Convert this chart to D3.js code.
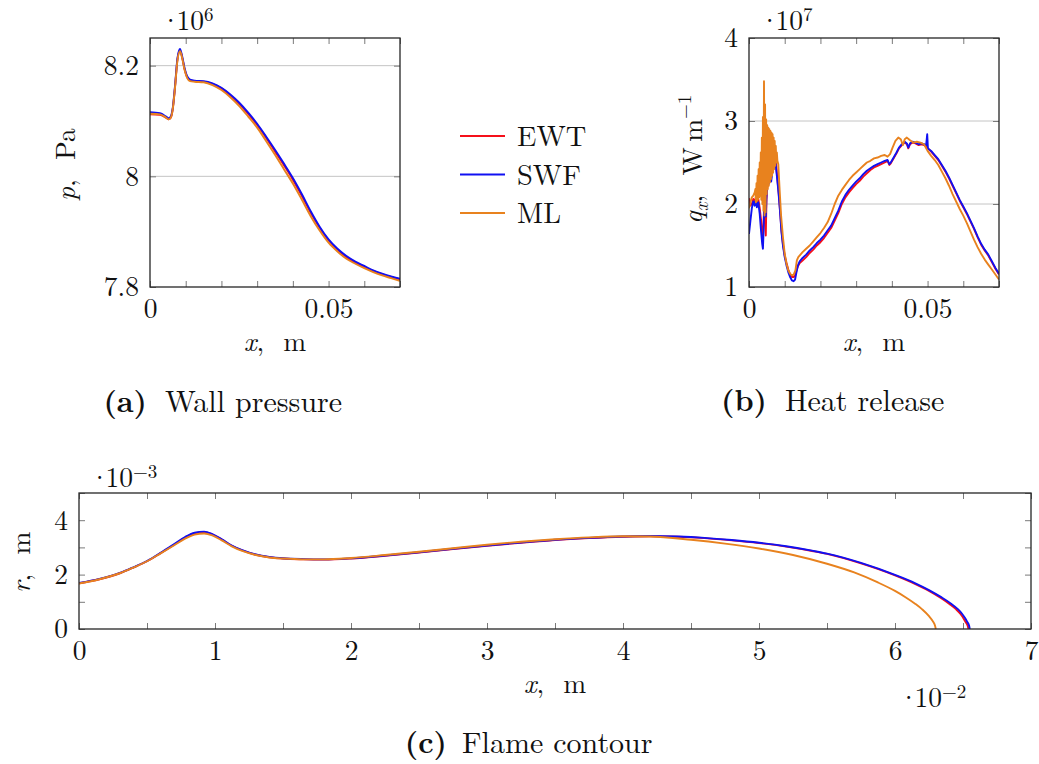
<!DOCTYPE html>
<html>
<head>
<meta charset="utf-8">
<script src="https://cdn.jsdelivr.net/npm/d3@7"></script>
<style>
  body { margin: 0; background: #fff; }
</style>
</head>
<body>
<script>
// ---------- (a) wall pressure, x in m, p in 1e6 Pa ----------
const pressureSWF = [
  [0, 8.116], [0.0028, 8.114], [0.0045, 8.108], [0.0052, 8.105], [0.0058, 8.108],
  [0.0064, 8.125], [0.0070, 8.163], [0.0077, 8.214], [0.0084, 8.230], [0.0090, 8.217],
  [0.0097, 8.195], [0.0104, 8.181], [0.0112, 8.175], [0.0125, 8.173], [0.0150, 8.172],
  [0.0175, 8.168], [0.0200, 8.160], [0.0225, 8.148], [0.0250, 8.133], [0.0275, 8.115],
  [0.0300, 8.095], [0.0325, 8.072], [0.0350, 8.048], [0.0375, 8.023], [0.0400, 7.997],
  [0.0425, 7.968], [0.0450, 7.937], [0.0475, 7.909], [0.0500, 7.886], [0.0525, 7.869],
  [0.0550, 7.856], [0.0575, 7.846], [0.0600, 7.838], [0.0625, 7.830], [0.0650, 7.824],
  [0.0675, 7.819], [0.0700, 7.815]
];
const pressureEWT = [
  [0, 8.112], [0.0028, 8.111], [0.0045, 8.106], [0.0052, 8.103], [0.0058, 8.106],
  [0.0064, 8.123], [0.0070, 8.161], [0.0077, 8.212], [0.0084, 8.228], [0.0090, 8.215],
  [0.0097, 8.193], [0.0104, 8.179], [0.0112, 8.174], [0.0125, 8.172], [0.0150, 8.171],
  [0.0175, 8.167], [0.0200, 8.159], [0.0225, 8.146], [0.0250, 8.131], [0.0275, 8.113],
  [0.0300, 8.093], [0.0325, 8.070], [0.0350, 8.045], [0.0375, 8.020], [0.0400, 7.994],
  [0.0425, 7.965], [0.0450, 7.934], [0.0475, 7.907], [0.0500, 7.884], [0.0525, 7.867],
  [0.0550, 7.854], [0.0575, 7.844], [0.0600, 7.836], [0.0625, 7.829], [0.0650, 7.823],
  [0.0675, 7.818], [0.0700, 7.814]
];
const pressureML = [
  [0, 8.113], [0.0028, 8.112], [0.0045, 8.106], [0.0052, 8.103], [0.0058, 8.106],
  [0.0064, 8.123], [0.0070, 8.160], [0.0077, 8.210], [0.0084, 8.226], [0.0090, 8.214],
  [0.0097, 8.192], [0.0104, 8.178], [0.0112, 8.172], [0.0125, 8.171], [0.0150, 8.170],
  [0.0175, 8.165], [0.0200, 8.156], [0.0225, 8.143], [0.0250, 8.127], [0.0275, 8.108],
  [0.0300, 8.088], [0.0325, 8.064], [0.0350, 8.039], [0.0375, 8.013], [0.0400, 7.987],
  [0.0425, 7.958], [0.0450, 7.928], [0.0475, 7.902], [0.0500, 7.880], [0.0525, 7.864],
  [0.0550, 7.851], [0.0575, 7.842], [0.0600, 7.834], [0.0625, 7.827], [0.0650, 7.821],
  [0.0675, 7.816], [0.0700, 7.811]
];

// ---------- (b) heat release, x in m, q in 1e7 W/m ----------
const heatSWF = [
  [0, 1.64], [0.0004, 1.80], [0.0008, 1.95], [0.0012, 2.03], [0.0016, 1.98], [0.0019, 2.05],
  [0.0022, 1.96], [0.0026, 2.02], [0.0030, 1.88], [0.0034, 1.66], [0.0037, 1.52], [0.0039, 1.46],
  [0.0041, 1.70], [0.0043, 2.05], [0.0045, 1.92], [0.0047, 1.85], [0.0049, 2.10], [0.0052, 2.29],
  [0.0055, 2.24], [0.0058, 2.29], [0.0062, 2.27], [0.0066, 2.40], [0.0070, 2.50], [0.0073, 2.57],
  [0.0076, 2.42], [0.0079, 2.30], [0.0083, 2.12], [0.0087, 1.90], [0.0091, 1.66], [0.0095, 1.50],
  [0.0100, 1.36], [0.0105, 1.26], [0.0110, 1.18], [0.0115, 1.12], [0.0120, 1.08], [0.0125, 1.07],
  [0.0129, 1.09], [0.0133, 1.18], [0.0137, 1.26], [0.0142, 1.31], [0.0150, 1.35], [0.0160, 1.39],
  [0.0170, 1.44], [0.0180, 1.48], [0.0190, 1.53], [0.0200, 1.57], [0.0210, 1.62], [0.0220, 1.68],
  [0.0230, 1.74], [0.0240, 1.83], [0.0250, 1.92], [0.0260, 2.03], [0.0270, 2.11], [0.0280, 2.17],
  [0.0290, 2.22], [0.0300, 2.27], [0.0310, 2.31], [0.0320, 2.36], [0.0330, 2.40], [0.0340, 2.43],
  [0.0350, 2.46], [0.0360, 2.48], [0.0370, 2.50], [0.0380, 2.52], [0.0388, 2.53], [0.0393, 2.48],
  [0.0397, 2.50], [0.0405, 2.56], [0.0413, 2.62], [0.0420, 2.68], [0.0428, 2.72], [0.0436, 2.75],
  [0.0442, 2.73], [0.0446, 2.68], [0.0451, 2.73], [0.0458, 2.75], [0.0466, 2.74], [0.0475, 2.72],
  [0.0483, 2.73], [0.0490, 2.72], [0.0496, 2.71], [0.0499, 2.84], [0.0501, 2.67], [0.0510, 2.64],
  [0.0520, 2.59], [0.0530, 2.54], [0.0540, 2.47], [0.0550, 2.40], [0.0560, 2.32], [0.0570, 2.23],
  [0.0580, 2.14], [0.0590, 2.05], [0.0600, 1.97], [0.0610, 1.89], [0.0620, 1.80], [0.0630, 1.71],
  [0.0640, 1.61], [0.0650, 1.52], [0.0660, 1.45], [0.0670, 1.39], [0.0680, 1.31], [0.0690, 1.23],
  [0.0700, 1.16]
];
const heatEWT = [
  [0, 2.07], [0.0004, 1.98], [0.0008, 2.00], [0.0012, 2.06], [0.0016, 2.02], [0.0019, 2.08],
  [0.0022, 2.00], [0.0026, 2.06], [0.0030, 1.95], [0.0034, 1.80], [0.0037, 1.62], [0.0039, 1.60],
  [0.0041, 1.78], [0.0043, 2.10], [0.0045, 1.98], [0.0047, 1.62], [0.0049, 2.05], [0.0052, 2.25],
  [0.0055, 2.30], [0.0058, 2.33], [0.0062, 2.35], [0.0066, 2.45], [0.0070, 2.52], [0.0073, 2.55],
  [0.0076, 2.48], [0.0079, 2.32], [0.0083, 2.14], [0.0087, 1.92], [0.0091, 1.68], [0.0095, 1.52],
  [0.0100, 1.38], [0.0105, 1.29], [0.0110, 1.21], [0.0115, 1.15], [0.0120, 1.12], [0.0125, 1.12],
  [0.0129, 1.14], [0.0133, 1.20], [0.0137, 1.25], [0.0142, 1.29], [0.0150, 1.32], [0.0160, 1.36],
  [0.0170, 1.41], [0.0180, 1.45], [0.0190, 1.50], [0.0200, 1.54], [0.0210, 1.59], [0.0220, 1.65],
  [0.0230, 1.71], [0.0240, 1.80], [0.0250, 1.89], [0.0260, 2.00], [0.0270, 2.08], [0.0280, 2.14],
  [0.0290, 2.19], [0.0300, 2.24], [0.0310, 2.28], [0.0320, 2.33], [0.0330, 2.37], [0.0340, 2.41],
  [0.0350, 2.44], [0.0360, 2.46], [0.0370, 2.48], [0.0380, 2.50], [0.0388, 2.52], [0.0393, 2.47],
  [0.0397, 2.49], [0.0405, 2.55], [0.0413, 2.61], [0.0420, 2.67], [0.0428, 2.71], [0.0436, 2.74],
  [0.0442, 2.72], [0.0446, 2.67], [0.0451, 2.72], [0.0458, 2.74], [0.0466, 2.73], [0.0475, 2.71],
  [0.0483, 2.72], [0.0490, 2.71], [0.0496, 2.70], [0.0501, 2.67], [0.0510, 2.63], [0.0520, 2.58],
  [0.0530, 2.53], [0.0540, 2.46], [0.0550, 2.39], [0.0560, 2.31], [0.0570, 2.22], [0.0580, 2.13],
  [0.0590, 2.04], [0.0600, 1.96], [0.0610, 1.88], [0.0620, 1.79], [0.0630, 1.70], [0.0640, 1.60],
  [0.0650, 1.51], [0.0660, 1.44], [0.0670, 1.38], [0.0680, 1.30], [0.0690, 1.22], [0.0700, 1.15]
];
const heatML = [
  [0, 1.95], [0.0004, 2.02], [0.0008, 2.08], [0.0012, 2.10], [0.0016, 2.14],
  [0.00180, 2.18], [0.00195, 2.02], [0.00210, 2.25], [0.00225, 2.04], [0.00240, 2.34],
  [0.00255, 2.06], [0.00270, 2.42], [0.00285, 2.08], [0.00300, 2.50], [0.00315, 2.10],
  [0.00330, 2.62], [0.00345, 2.05], [0.00360, 2.80], [0.00375, 2.00], [0.00390, 3.05],
  [0.00405, 1.92], [0.00420, 3.48], [0.00435, 1.86], [0.00450, 3.20], [0.00465, 1.90],
  [0.00480, 3.02], [0.00495, 2.12], [0.00510, 2.95], [0.00525, 2.18], [0.00540, 2.92],
  [0.00555, 2.22], [0.00570, 2.90], [0.00585, 2.26], [0.00600, 2.88], [0.00615, 2.30],
  [0.00630, 2.86], [0.00645, 2.34], [0.00660, 2.84], [0.00675, 2.38], [0.00690, 2.80],
  [0.00705, 2.42], [0.00720, 2.76], [0.00735, 2.46], [0.00750, 2.70], [0.00765, 2.50],
  [0.00780, 2.62], [0.00795, 2.52],
  [0.0082, 2.48], [0.0086, 2.15], [0.0090, 1.85], [0.0095, 1.60], [0.0100, 1.40], [0.0105, 1.28],
  [0.0110, 1.20], [0.0115, 1.16], [0.0120, 1.14], [0.0125, 1.15], [0.0130, 1.20], [0.0134, 1.32],
  [0.0138, 1.36], [0.0150, 1.42], [0.0160, 1.46], [0.0170, 1.50], [0.0180, 1.55], [0.0190, 1.60],
  [0.0200, 1.65], [0.0210, 1.71], [0.0220, 1.78], [0.0230, 1.88], [0.0240, 2.00], [0.0250, 2.10],
  [0.0260, 2.17], [0.0270, 2.23], [0.0280, 2.29], [0.0290, 2.34], [0.0300, 2.38], [0.0310, 2.42],
  [0.0320, 2.46], [0.0330, 2.50], [0.0340, 2.52], [0.0350, 2.55], [0.0360, 2.56], [0.0370, 2.58],
  [0.0380, 2.59], [0.0388, 2.57], [0.0395, 2.60], [0.0402, 2.68], [0.0410, 2.76], [0.0418, 2.80],
  [0.0425, 2.78], [0.0431, 2.71], [0.0436, 2.78], [0.0442, 2.80], [0.0450, 2.77], [0.0460, 2.74],
  [0.0470, 2.75], [0.0480, 2.74], [0.0490, 2.72], [0.0500, 2.64], [0.0510, 2.58], [0.0520, 2.53],
  [0.0530, 2.47], [0.0540, 2.39], [0.0550, 2.31], [0.0560, 2.22], [0.0570, 2.12], [0.0580, 2.03],
  [0.0590, 1.94], [0.0600, 1.86], [0.0610, 1.77], [0.0620, 1.67], [0.0630, 1.57], [0.0640, 1.48],
  [0.0650, 1.40], [0.0660, 1.33], [0.0670, 1.27], [0.0680, 1.21], [0.0690, 1.15], [0.0700, 1.09]
];

// ---------- (c) flame contour, x in 1e-2 m, r in 1e-3 m ----------
const contourSWF = [
  [0, 1.69], [0.15, 1.84], [0.3, 2.06], [0.4, 2.27], [0.5, 2.50], [0.6, 2.80], [0.7, 3.12],
  [0.78, 3.38], [0.85, 3.54], [0.92, 3.58], [0.98, 3.49], [1.05, 3.30], [1.12, 3.08],
  [1.2, 2.90], [1.3, 2.74], [1.4, 2.65], [1.5, 2.60], [1.65, 2.57], [1.8, 2.56], [2.0, 2.60],
  [2.25, 2.70], [2.5, 2.82], [2.75, 2.95], [3.0, 3.07], [3.25, 3.18], [3.5, 3.28], [3.75, 3.35],
  [4.0, 3.40], [4.2, 3.42], [4.4, 3.40], [4.6, 3.35], [4.8, 3.27], [5.0, 3.17], [5.2, 3.04],
  [5.4, 2.87], [5.5, 2.77], [5.75, 2.43], [6.0, 1.99], [6.15, 1.68], [6.25, 1.43], [6.34, 1.17],
  [6.41, 0.94], [6.46, 0.74], [6.49, 0.58], [6.515, 0.40], [6.53, 0.27], [6.545, 0.12], [6.55, 0]
];
const contourEWT = [
  [0, 1.68], [0.15, 1.83], [0.3, 2.05], [0.4, 2.26], [0.5, 2.49], [0.6, 2.79], [0.7, 3.10],
  [0.78, 3.36], [0.85, 3.52], [0.92, 3.56], [0.98, 3.48], [1.05, 3.29], [1.12, 3.07],
  [1.2, 2.89], [1.3, 2.73], [1.4, 2.64], [1.5, 2.59], [1.65, 2.56], [1.8, 2.55], [2.0, 2.59],
  [2.25, 2.69], [2.5, 2.81], [2.75, 2.94], [3.0, 3.06], [3.25, 3.17], [3.5, 3.27], [3.75, 3.34],
  [4.0, 3.39], [4.2, 3.41], [4.4, 3.39], [4.6, 3.34], [4.8, 3.26], [5.0, 3.16], [5.2, 3.03],
  [5.4, 2.86], [5.5, 2.76], [5.75, 2.41], [6.0, 1.97], [6.15, 1.65], [6.25, 1.40], [6.34, 1.13],
  [6.40, 0.92], [6.45, 0.72], [6.48, 0.56], [6.505, 0.38], [6.52, 0.25], [6.535, 0.11], [6.54, 0]
];
const contourML = [
  [0, 1.67], [0.15, 1.83], [0.3, 2.05], [0.4, 2.26], [0.5, 2.49], [0.6, 2.78], [0.7, 3.08],
  [0.78, 3.32], [0.85, 3.47], [0.92, 3.51], [0.98, 3.44], [1.05, 3.26], [1.12, 3.05],
  [1.2, 2.87], [1.3, 2.72], [1.4, 2.63], [1.5, 2.59], [1.65, 2.56], [1.8, 2.56], [2.0, 2.61],
  [2.25, 2.72], [2.5, 2.84], [2.75, 2.97], [3.0, 3.10], [3.25, 3.21], [3.5, 3.30], [3.75, 3.37],
  [4.0, 3.41], [4.2, 3.40], [4.5, 3.28], [4.75, 3.14], [5.0, 2.96], [5.25, 2.72], [5.5, 2.40],
  [5.7, 2.08], [5.87, 1.72], [6.0, 1.40], [6.08, 1.16], [6.15, 0.92], [6.2, 0.72], [6.25, 0.47],
  [6.28, 0.27], [6.295, 0.11], [6.30, 0]
];

// ---------- ticks and labels ----------
const pressureXTicks = [0, 0.01, 0.02, 0.03, 0.04, 0.05, 0.06, 0.07];
const pressureXLabels = [[0, "0"], [0.05, "0.05"]];
const pressureYTicks = [7.8, 8.0, 8.2];
const pressureYLabels = [[7.8, "7.8"], [8.0, "8"], [8.2, "8.2"]];
const heatXTicks = [0, 0.01, 0.02, 0.03, 0.04, 0.05, 0.06, 0.07];
const heatXLabels = [[0, "0"], [0.05, "0.05"]];
const heatYTicks = [1, 2, 3, 4];
const heatYLabels = [[1, "1"], [2, "2"], [3, "3"], [4, "4"]];
const contourXTicks = [0, 0.5, 1, 1.5, 2, 2.5, 3, 3.5, 4, 4.5, 5, 5.5, 6, 6.5, 7];
const contourXLabels = [[0, "0"], [1, "1"], [2, "2"], [3, "3"], [4, "4"], [5, "5"], [6, "6"], [7, "7"]];
const contourYTicks = [0, 1, 2, 3, 4, 5];
const contourYLabels = [[0, "0"], [2, "2"], [4, "4"]];

const seriesNames = ["EWT", "SWF", "ML"];
const seriesColors = { EWT: "#f5101a", SWF: "#1010f2", ML: "#e8821e" };

// ---------- drawing ----------
const FONT = "'Latin Modern Roman', 'CMU Serif', 'Liberation Serif', serif";
const TICK_FS = 27.5;
const svg = d3.select("body").append("svg")
  .attr("width", 1039).attr("height", 764)
  .attr("font-family", FONT);

function labelFor(pairs) {
  return d => {
    const hit = pairs.find(p => Math.abs(p[0] - d) < 1e-9);
    return hit ? hit[1] : "";
  };
}

function styleAxis(sel) {
  sel.attr("font-family", FONT).attr("font-size", TICK_FS);
  sel.select(".domain").remove();
  sel.selectAll(".tick line").attr("stroke", "#7a7a7a").attr("stroke-width", 1);
  sel.selectAll(".tick text").attr("fill", "#111").attr("font-family", FONT);
}

function drawPanel(cfg) {
  const g = svg.append("g");
  const x = d3.scaleLinear().domain(cfg.xDomain).range([cfg.left, cfg.right]);
  const y = d3.scaleLinear().domain(cfg.yDomain).range([cfg.bottom, cfg.top]);

  // horizontal grid
  g.append("g").selectAll("line").data(cfg.yGrid || []).join("line")
    .attr("x1", cfg.left).attr("x2", cfg.right)
    .attr("y1", d => y(d)).attr("y2", d => y(d))
    .attr("stroke", "#c4c4c4").attr("stroke-width", 1);

  // ticks on all four sides, pointing inward
  g.append("g").attr("transform", `translate(0,${cfg.bottom})`)
    .call(d3.axisBottom(x).tickValues(cfg.xTicks).tickSize(-6).tickPadding(11)
      .tickFormat(labelFor(cfg.xLabels))).call(styleAxis);
  g.append("g").attr("transform", `translate(0,${cfg.top})`)
    .call(d3.axisTop(x).tickValues(cfg.xTicks).tickSize(-6).tickFormat("")).call(styleAxis);
  g.append("g").attr("transform", `translate(${cfg.left},0)`)
    .call(d3.axisLeft(y).tickValues(cfg.yTicks).tickSize(-6).tickPadding(11)
      .tickFormat(labelFor(cfg.yLabels))).call(styleAxis);
  g.append("g").attr("transform", `translate(${cfg.right},0)`)
    .call(d3.axisRight(y).tickValues(cfg.yTicks).tickSize(-6).tickFormat("")).call(styleAxis);

  // curves, clipped to the frame
  const clipId = "clip-" + cfg.id;
  svg.append("clipPath").attr("id", clipId).append("rect")
    .attr("x", cfg.left).attr("y", cfg.top)
    .attr("width", cfg.right - cfg.left).attr("height", cfg.bottom - cfg.top);
  const line = d3.line().x(d => x(d[0])).y(d => y(d[1])).curve(cfg.curve);
  g.append("g").attr("clip-path", `url(#${clipId})`)
    .selectAll("path").data(cfg.series).join("path")
    .attr("d", s => line(s.values))
    .attr("fill", "none")
    .attr("stroke", s => seriesColors[s.name])
    .attr("stroke-width", 1.9)
    .attr("stroke-linejoin", "round");

  // frame
  g.append("rect").attr("x", cfg.left).attr("y", cfg.top)
    .attr("width", cfg.right - cfg.left).attr("height", cfg.bottom - cfg.top)
    .attr("fill", "none").attr("stroke", "#262626").attr("stroke-width", 1.3);
  return g;
}

function mathLabel(g, parts, attrs) {
  const t = g.append("text").attr("font-size", TICK_FS)
    .attr("font-family", FONT).attr("fill", "#111");
  Object.entries(attrs).forEach(([k, v]) => t.attr(k, v));
  parts.forEach(p => {
    const s = t.append("tspan").text(p.t);
    if (p.italic) s.attr("font-style", "italic");
    if (p.size) s.attr("font-size", p.size);
    if (p.dy) s.attr("dy", p.dy);
    if (p.ls) s.attr("letter-spacing", p.ls);
  });
  return t;
}

// scale multiplier such as ·10^6
function multiplier(g, exponent, x, y) {
  return mathLabel(g, [
    { t: "·", ls: -5 }, { t: "10" }, { t: exponent, size: 19, dy: -9 }
  ], { x, y });
}

// (a)
const gA = drawPanel({
  id: "a", left: 150, right: 400, top: 38, bottom: 287,
  xDomain: [0, 0.07], yDomain: [7.8, 8.25],
  xTicks: pressureXTicks, xLabels: pressureXLabels,
  yTicks: pressureYTicks, yLabels: pressureYLabels, yGrid: [8.0, 8.2],
  curve: d3.curveMonotoneX,
  series: [
    { name: "EWT", values: pressureEWT },
    { name: "SWF", values: pressureSWF },
    { name: "ML", values: pressureML }
  ]
});
multiplier(gA, "6", 160, 30);
mathLabel(gA, [{ t: "x", italic: true }, { t: ",\u2002\u2009m" }],
  { x: 275, y: 351, "text-anchor": "middle" });
mathLabel(gA, [{ t: "p", italic: true }, { t: ",\u2002\u2009Pa" }],
  { transform: "translate(75,201) rotate(-90)" });

// (b)
const gB = drawPanel({
  id: "b", left: 749, right: 999, top: 38, bottom: 287,
  xDomain: [0, 0.07], yDomain: [1, 4],
  xTicks: heatXTicks, xLabels: heatXLabels,
  yTicks: heatYTicks, yLabels: heatYLabels, yGrid: [2, 3],
  curve: d3.curveLinear,
  series: [
    { name: "EWT", values: heatEWT },
    { name: "SWF", values: heatSWF },
    { name: "ML", values: heatML }
  ]
});
multiplier(gB, "7", 759, 30);
mathLabel(gB, [{ t: "x", italic: true }, { t: ",\u2002\u2009m" }],
  { x: 874, y: 351, "text-anchor": "middle" });
mathLabel(gB, [
  { t: "q", italic: true }, { t: "x", italic: true, size: 19, dy: 6 },
  { t: ",\u2002\u2009W\u2009m", dy: -6 }, { t: "−1", size: 19, dy: -11 }
], { transform: "translate(702,224) rotate(-90)" });

// (c)
const gC = drawPanel({
  id: "c", left: 79, right: 1031, top: 493, bottom: 629,
  xDomain: [0, 7], yDomain: [0, 5],
  xTicks: contourXTicks, xLabels: contourXLabels,
  yTicks: contourYTicks, yLabels: contourYLabels, yGrid: [],
  curve: d3.curveMonotoneX,
  series: [
    { name: "EWT", values: contourEWT },
    { name: "SWF", values: contourSWF },
    { name: "ML", values: contourML }
  ]
});
multiplier(gC, "−3", 89, 487);
multiplier(gC, "−2", 898, 707);
mathLabel(gC, [{ t: "x", italic: true }, { t: ",\u2002\u2009m" }],
  { x: 555, y: 693, "text-anchor": "middle" });
mathLabel(gC, [{ t: "r", italic: true }, { t: ",\u2002\u2009m" }],
  { transform: "translate(30,593) rotate(-90)" });

// legend
const legend = svg.append("g");
seriesNames.forEach((name, i) => {
  const ly = 136 + i * 38.5;
  legend.append("line").attr("x1", 460).attr("x2", 505).attr("y1", ly).attr("y2", ly)
    .attr("stroke", seriesColors[name]).attr("stroke-width", 1.9);
  legend.append("text").attr("x", 517).attr("y", ly + 10).attr("font-size", 28.5)
    .attr("font-family", FONT).attr("fill", "#111").text(name);
});

// sub-captions
const captions = [
  { tag: "(a)", text: "Wall pressure", tagEnd: 147, start: 165, y: 412 },
  { tag: "(b)", text: "Heat release", tagEnd: 767, start: 785, y: 411 },
  { tag: "(c)", text: "Flame contour", tagEnd: 447, start: 462, y: 753 }
];
captions.forEach(c => {
  svg.append("text").attr("x", c.tagEnd).attr("y", c.y).attr("font-size", 30)
    .attr("font-family", FONT).attr("fill", "#111")
    .attr("font-weight", "bold").attr("text-anchor", "end").text(c.tag);
  svg.append("text").attr("x", c.start).attr("y", c.y).attr("font-size", 30)
    .attr("font-family", FONT).attr("fill", "#111").text(c.text);
});
</script>
</body>
</html>
